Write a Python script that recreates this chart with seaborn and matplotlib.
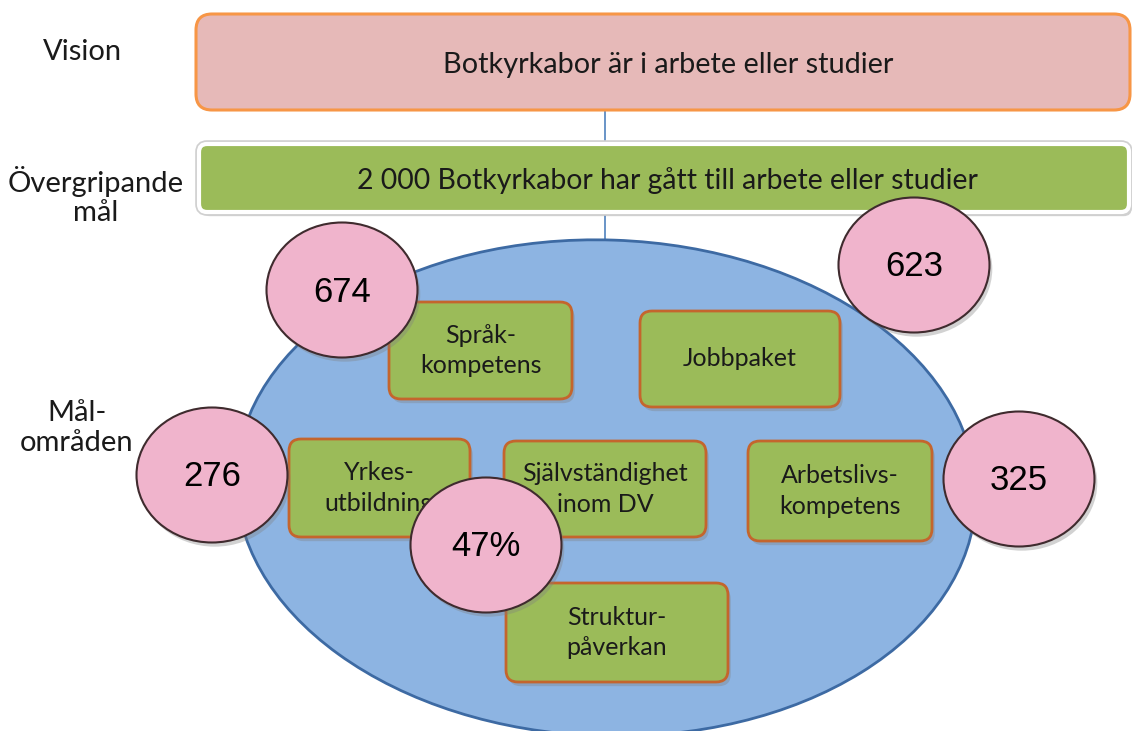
import matplotlib
matplotlib.use("Agg")
import matplotlib.pyplot as plt
import matplotlib.patheffects as pe
from matplotlib.patches import FancyBboxPatch, Ellipse
import seaborn as sns

# ---------------- data (text content) ----------------
level_labels = ["Vision", "Övergripande\nmål", "Mål-\nområden"]
vision_text = "Botkyrkabor är i arbete eller studier"
goal_text = "2 000 Botkyrkabor har gått till arbete eller studier"
area_labels = ["Språk-\nkompetens", "Jobbpaket", "Yrkes-\nutbildning",
               "Självständighet\ninom DV", "Arbetslivs-\nkompetens", "Struktur-\npåverkan"]
result_labels = ["674", "623", "276", "325", "47%"]

# ---------------- layout (pixel coordinates of the slide) ----------------
W, H = 1132, 731
level_pos = [(82, 52), (96, 196), (77, 428)]
vision_box = (196, 14, 1130, 110)
goal_box = (199, 144, 1129, 212)
area_boxes = [(389, 302, 572, 399), (640, 311, 840, 407), (289, 439, 470, 537),
              (504, 441, 706, 537), (748, 441, 932, 541), (506, 583, 728, 682)]
result_circles = [(342, 290), (914, 265), (212, 475), (1019, 479), (486, 545)]
circle_w, circle_h = 151, 135
big_ellipse = (606, 488, 740, 496, 2)

sns.set_theme(style="white")
plt.rcParams["font.family"] = ["Lato", "DejaVu Sans"]

fig = plt.figure(figsize=(W / 100, H / 100), dpi=100)
ax = fig.add_axes([0, 0, 1, 1])
ax.set_xlim(0, W)
ax.set_ylim(H, 0)
ax.axis("off")

txt_col = "#1a1a1a"
shadow = [pe.withSimplePatchShadow(offset=(2, -3), shadow_rgbFace="#7f7f7f", alpha=0.35)]

# connecting line
ax.plot([605, 605], [110, 250], color="#4f81bd", lw=1.2, zorder=1)

# vision box
x0, y0, x1, y1 = vision_box
ax.add_patch(FancyBboxPatch((x0, y0), x1 - x0, y1 - y0,
                            boxstyle="round,pad=0,rounding_size=16",
                            fc="#e6b9b8", ec="#f79646", lw=2.2, zorder=2))
ax.text(668, 65, vision_text, ha="center", va="center",
        fontsize=20.8, color=txt_col, zorder=5)

# goal bar
x0, y0, x1, y1 = goal_box
ax.add_patch(FancyBboxPatch((x0, y0), x1 - x0, y1 - y0,
                            boxstyle="round,pad=0,rounding_size=8",
                            fc="#9bbb59", ec="#d0d0d0", lw=5.5, zorder=2,
                            path_effects=shadow))
ax.add_patch(FancyBboxPatch((x0, y0), x1 - x0, y1 - y0,
                            boxstyle="round,pad=0,rounding_size=8",
                            fc="#9bbb59", ec="white", lw=3, zorder=2))
ax.text(667, 181, goal_text, ha="center", va="center",
        fontsize=20.4, color=txt_col, zorder=5)

# level labels
for (lx, ly), lab in zip(level_pos, level_labels):
    ax.text(lx, ly, lab, ha="center", va="center", fontsize=21,
            color=txt_col, linespacing=1.15, zorder=5)

# big blue ellipse
cx, cy, ew, eh, ang = big_ellipse
ax.add_patch(Ellipse((cx, cy), ew, eh, angle=ang, fc="#8db4e2", ec="#3d6aa3",
                     lw=2, zorder=3))

# goal area boxes
for (bx0, by0, bx1, by1), lab in zip(area_boxes, area_labels):
    ax.add_patch(FancyBboxPatch((bx0, by0), bx1 - bx0, by1 - by0,
                                boxstyle="round,pad=0,rounding_size=12",
                                fc="#9bbb59", ec="#c4652d", lw=2, zorder=4,
                                path_effects=shadow))
    ax.text((bx0 + bx1) / 2, (by0 + by1) / 2, lab, ha="center", va="center",
            fontsize=18, color=txt_col, linespacing=1.4, zorder=5)

# result circles
for (ccx, ccy), lab in zip(result_circles, result_labels):
    ax.add_patch(Ellipse((ccx, ccy), circle_w, circle_h, fc="#f0b4cc",
                         ec="#3f2b2e", lw=1.5, zorder=6, path_effects=shadow))
    ax.text(ccx, ccy + 2, lab, ha="center", va="center", fontsize=25,
            family=["Liberation Sans", "DejaVu Sans"], color="black", zorder=7)

fig.savefig("out.png", dpi=100, facecolor="white")
